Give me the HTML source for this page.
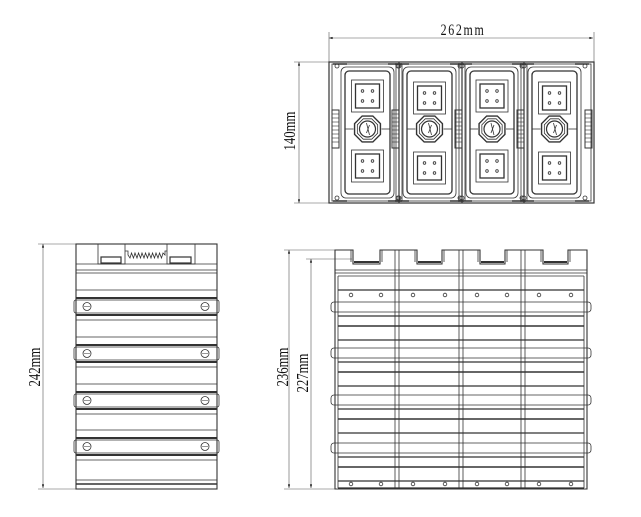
<!DOCTYPE html>
<html><head><style>
html,body{margin:0;padding:0;background:#fff;width:641px;height:517px;overflow:hidden}
svg{display:block}
text{font-family:"Liberation Serif",serif;fill:#111}
</style></head><body>
<svg id="s" width="641" height="517" viewBox="0 0 641 517" xmlns="http://www.w3.org/2000/svg" fill="none" stroke="#333" stroke-width="0.8">
<defs>
<marker id="a" viewBox="0 0 10 10" refX="10" refY="5" markerWidth="8" markerHeight="6" orient="auto-start-reverse"><path d="M0,2 L10,5 L0,8 z" fill="#111" stroke="none"/></marker>
</defs>
<g stroke="#555" stroke-width="0.6">
<line x1="329" y1="38" x2="593" y2="38" marker-start="url(#a)" marker-end="url(#a)"/>
<line x1="329" y1="32" x2="329" y2="62"/><line x1="594" y1="32" x2="594" y2="62"/>
<line x1="299" y1="62" x2="299" y2="203" marker-start="url(#a)" marker-end="url(#a)"/>
<line x1="294" y1="62" x2="330" y2="62"/><line x1="294" y1="203" x2="330" y2="203"/>
<line x1="43" y1="244" x2="43" y2="488" marker-start="url(#a)" marker-end="url(#a)"/>
<line x1="38" y1="244" x2="100" y2="244"/><line x1="38" y1="489" x2="76" y2="489"/>
<line x1="289" y1="250" x2="289" y2="488" marker-start="url(#a)" marker-end="url(#a)"/>
<line x1="311" y1="259" x2="311" y2="488" marker-start="url(#a)" marker-end="url(#a)"/>
<line x1="284" y1="250" x2="350" y2="250"/><line x1="306" y1="259" x2="352" y2="259"/>
<line x1="284" y1="489" x2="335" y2="489"/>
</g>
<text transform="translate(463,35) scale(0.85,1.1)" font-size="14" text-anchor="middle" stroke="none" letter-spacing="2">262mm</text>
<text transform="translate(295,131) rotate(-90) scale(0.85,1.15)" font-size="15" text-anchor="middle" stroke="none">140mm</text>
<text transform="translate(40,367) rotate(-90) scale(0.85,1.15)" font-size="15" text-anchor="middle" stroke="none">242mm</text>
<text transform="translate(288,367) rotate(-90) scale(0.85,1.15)" font-size="15" text-anchor="middle" stroke="none">236mm</text>
<text transform="translate(308,373) rotate(-90) scale(0.85,1.15)" font-size="15" text-anchor="middle" stroke="none">227mm</text>
<g id="g"></g>
</svg>
<script>
var g=document.getElementById('g'),h='';
function r(x,y,w,hh,o){h+='<rect x="'+x+'" y="'+y+'" width="'+w+'" height="'+hh+'" '+(o||'')+'/>';}
function l(x1,y1,x2,y2,o){h+='<line x1="'+x1+'" y1="'+y1+'" x2="'+x2+'" y2="'+y2+'" '+(o||'')+'/>';}
function c(x,y,rr,o){h+='<circle cx="'+x+'" cy="'+y+'" r="'+rr+'" '+(o||'')+'/>';}
// TOP VIEW
r(329,62,265,141,'stroke-width="1.2"');
r(332,64,259,137);
var b=[329,399,462,524,594], inner=[[345,390],[407,452],[470,514],[532,577]];
for(var i=1;i<4;i++){l(b[i],62,b[i],203,'stroke-width="1.2"');l(b[i]-3,64,b[i]-3,201);l(b[i]+3,64,b[i]+3,201);}
for(var i=0;i<4;i++){
 var x1=inner[i][0],x2=inner[i][1],cx=(x1+x2)/2;
 r(x1,71,x2-x1,123,'rx="4" stroke-width="1.3"');r(x1-4,67,x2-x1+8,131,'rx="5"');
 var sy=(i%2==0)?82:84;
 r(cx-16,sy-2,32,32,'');r(cx-12,sy+2,24,24,'stroke-width="1.3"');
 c(cx-5,sy+9,1.3);c(cx+5,sy+9,1.3);c(cx-5,sy+19,1.3);c(cx+5,sy+19,1.3);
 var ly=(i%2==0)?150:152;
 r(cx-16,ly,32,32,'');r(cx-12,ly+4,24,24,'stroke-width="1.3"');
 c(cx-5,ly+11,1.3);c(cx+5,ly+11,1.3);c(cx-5,ly+21,1.3);c(cx+5,ly+21,1.3);
 l(x1,129,cx-14,129);l(cx+14,129,x2,129);
 var p='',p2='';for(var k=0;k<8;k++){var a=Math.PI/8+k*Math.PI/4;p+=(cx+14*Math.cos(a))+','+(129+14*Math.sin(a))+' ';p2+=(cx+11*Math.cos(a))+','+(129+11*Math.sin(a))+' ';}
 h+='<polygon points="'+p+'" stroke-width="1.4"/><polygon points="'+p2+'"/>';c(cx,129,8,'stroke-width="1.2"');
 l(cx-1,123,cx+2,135);l(cx+2,125,cx-1,133);
 [[x1-8,66],[x2+8,66],[x1-8,198],[x2+8,198]].forEach(function(q){c(q[0],q[1],2);});
 l(x1-12,64,x1+2,64,'stroke-width="1.5"');l(x2-2,64,x2+12,64,'stroke-width="1.5"');
 l(x1-12,201,x1+2,201,'stroke-width="1.5"');l(x2-2,201,x2+12,201,'stroke-width="1.5"');
}
[335,395,458,520,588].forEach(function(x){r(x-3,110,7,38,'stroke-width="1"');for(var y=114;y<146;y+=4)l(x-3,y,x+4,y,'stroke-width="0.6"');});

// LEFT SIDE VIEW
r(76,244,141,245,'stroke-width="1.1"');
r(98,244,27,20);r(101,257,20,6,'stroke-width="1.2"');
r(167,244,28,20);r(170,257,21,6,'stroke-width="1.2"');
var wv='M125,251 L128,251 L128,255';for(var k=0;k<10;k++){var x=130+k*3.5;wv+=' L'+x+',258 L'+(x+1.5)+',253';}wv+=' L165,255 L165,251 L167,251';
h+='<path d="'+wv+'"/>';
l(76,264,217,264);l(76,270,217,270);l(76,273,217,273);
[298,345,392,438].forEach(function(y){
 l(76,y,217,y,'stroke-width="2"');r(74,y+2,145,13,'rx="2"');l(76,y+17,217,y+17,'stroke-width="2"');l(76,y+22,217,y+22);
 c(87,y+8.5,4);l(84,y+8.5,90,y+8.5,'stroke-width="0.5"');c(205,y+8.5,4);l(202,y+8.5,208,y+8.5,'stroke-width="0.5"');
 l(76,y-8,217,y-8);
});
l(76,480,217,480);l(76,484,217,484,'stroke-width="1.5"');

// RIGHT FRONT VIEW
var notches=[[353,380],[417,442],[480,505],[543,568]];
var op='M335,489 L335,250';
notches.forEach(function(n){op+=' L'+n[0]+',250 L'+n[0]+',264 L'+n[1]+',264 L'+n[1]+',250';});
op+=' L587,250 L587,489 Z';
h+='<path d="'+op+'" stroke-width="1.1"/>';
notches.forEach(function(n){l(n[0]+1,262,n[1]-1,262,'stroke-width="2"');l(n[0]-2,250,n[0]-2,262);l(n[1]+2,250,n[1]+2,262);});
var cb=[335,397,461,523,587];
for(var i=1;i<4;i++){l(cb[i]-2,250,cb[i]-2,489);l(cb[i]+2,250,cb[i]+2,489);}
for(var i=0;i<4;i++){var x1=cb[i],x2=cb[i+1];
 c(x1+16,295,1.8);c(x2-16,295,1.8);c(x1+16,484,1.8);c(x2-16,484,1.8);
}
l(335,270,587,270);l(335,273,587,273);
l(338,276,584,276);l(338,290,584,290,'stroke-width="1.3"');
[302,348,395,443].forEach(function(y){
 r(331,y,260,10,'rx="3"');
 l(338,y+14,584,y+14,'stroke-width="1.3"');l(338,y+24,584,y+24,'stroke-width="1.5"');l(338,y+38,584,y+38,'stroke-width="1.3"');
});
l(338,488,584,488,'stroke-width="1.3"');
l(338,276,338,488);l(584,276,584,488);
g.innerHTML=h;
</script>
</body></html>
